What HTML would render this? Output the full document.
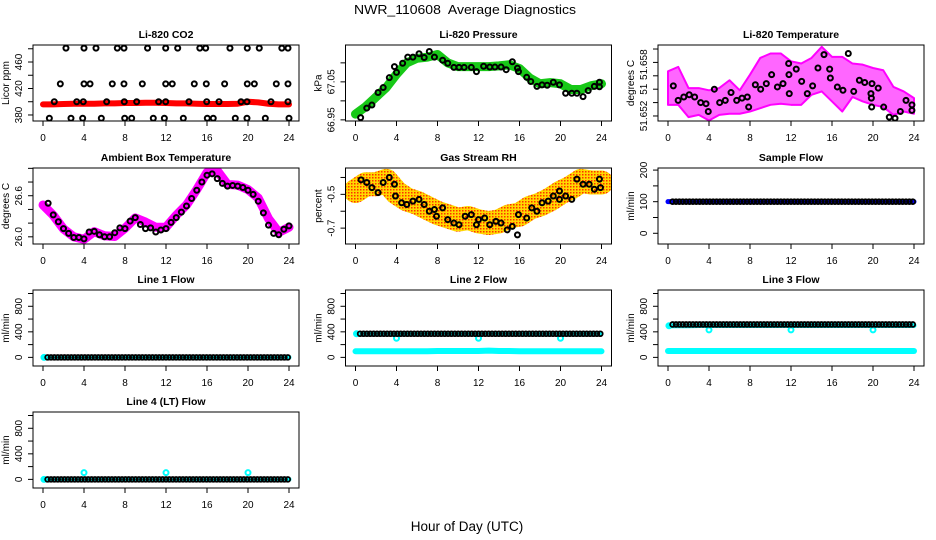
<!DOCTYPE html>
<html><head><meta charset="utf-8"><title>NWR_110608 Average Diagnostics</title>
<style>
html,body{margin:0;padding:0;background:#fff;}
svg{display:block;font-family:"Liberation Sans",Arial,sans-serif;}
</style></head>
<body>
<svg id="chart" width="936" height="540" viewBox="0 0 936 540" xmlns="http://www.w3.org/2000/svg">
<defs>
<pattern id="rhpat" width="3" height="3" patternUnits="userSpaceOnUse">
<rect width="3" height="3" fill="#ffd800"/><rect width="1.5" height="1.5" fill="#ff3000"/>
</pattern>
</defs>
<text x="465" y="14" text-anchor="middle" font-size="13" textLength="222" lengthAdjust="spacingAndGlyphs" xml:space="preserve">NWR_110608  Average Diagnostics</text>
<text x="467" y="531" text-anchor="middle" font-size="13.5">Hour of Day (UTC)</text>
</svg>
<script>
// ---------- data ----------
const xTicks = [0,4,8,12,16,20,24];
const hourly = [0,1,2,3,4,5,6,7,8,9,10,11,12,13,14,15,16,17,18,19,20,21,22,23,24];

// CO2
const co2Red = [396,396,396.5,397,397,397,397.5,397.5,398,398,398.5,398.5,398,397.5,397.5,397,396.5,396.5,396.5,397,400,399,397,396,396];
const co2Hours = [2.24,4.0,5.17,7.25,7.9,10.2,11.97,13.14,15.3,15.87,18.24,19.93,21.1,23.3,23.9,
 1.69,4.0,4.59,6.76,7.9,9.69,11.97,12.61,14.76,15.93,17.72,19.93,20.62,22.76,23.9,
 1.1,3.29,3.93,6.21,7.93,9.14,11.28,11.97,14.24,15.97,17.17,19.32,19.9,22.24,23.9,
 0.62,2.73,3.87,5.69,7.97,8.65,10.76,11.84,13.69,16.03,16.61,18.76,19.9,21.69,24.0];
const co2Vals = [481,481,481,481,481,481,481,481,481,481,481,481,481,481,481,
 427,427,427,427,427,427,427,427,427,427,427,427,427,427,427,
 400,400,400,400,400,400,400,400,400,400,400,400,400,400,400,
 375,375,375,375,375,375,375,375,375,375,375,375,375,375,375];

// Pressure
const presGreen = [66.965,66.985,67.01,67.035,67.07,67.1,67.112,67.115,67.122,67.10,67.09,67.09,67.09,67.09,67.092,67.095,67.085,67.06,67.045,67.048,67.045,67.03,67.03,67.04,67.045];
const presHours = [0.5,1.1,1.6,2.2,2.7,3.3,3.8,4.0,4.6,5.1,5.6,6.2,6.7,7.2,7.7,8.5,9.0,9.6,10.1,10.6,11.3,11.8,12.5,13.1,13.6,14.2,14.7,15.3,15.8,15.9,16.7,17.1,17.7,18.2,18.7,19.3,19.9,20.5,21.1,21.6,22.2,22.7,23.3,23.8,23.8];
const presVals = [66.956,66.981,66.989,67.022,67.035,67.061,67.09,67.075,67.099,67.115,67.115,67.124,67.114,67.13,67.115,67.107,67.099,67.088,67.088,67.088,67.088,67.077,67.091,67.089,67.089,67.089,67.082,67.103,67.086,67.077,67.062,67.051,67.038,67.042,67.041,67.049,67.042,67.02,67.02,67.02,67.011,67.027,67.038,67.049,67.037];

// Li-820 temperature
const tempHi = [51.6560,51.6564,51.6545,51.6545,51.6543,51.6545,51.6552,51.6543,51.6557,51.6572,51.6576,51.6576,51.6569,51.6567,51.6572,51.6582,51.6573,51.6573,51.6567,51.6566,51.6563,51.6561,51.6546,51.6542,51.6536];
const tempLo = [51.6530,51.6530,51.6519,51.6521,51.6516,51.6521,51.6522,51.6522,51.6524,51.6527,51.6530,51.6531,51.6530,51.6530,51.6539,51.6542,51.6533,51.6524,51.6537,51.6533,51.6530,51.6528,51.6521,51.6524,51.6522];
const tempHours = [0.52,0.99,1.54,2.07,2.6,3.19,3.71,3.93,4.52,5.04,5.59,6.15,6.7,7.22,7.74,7.87,8.52,9.04,9.59,10.11,10.67,11.22,11.77,11.8,11.83,12.51,13.04,13.59,14.11,14.63,15.22,15.77,15.84,16.52,17.07,17.59,18.12,18.67,19.19,19.8,19.84,19.87,19.9,20.51,21.04,21.59,22.15,22.67,23.22,23.8,23.8];
const tempVals = [51.6547,51.6534,51.6537,51.6539,51.6537,51.6532,51.6531,51.6524,51.6544,51.6532,51.6534,51.6541,51.6534,51.6536,51.6537,51.6528,51.6548,51.6544,51.6549,51.6557,51.6546,51.6549,51.6567,51.6557,51.6540,51.6562,51.6551,51.6540,51.6547,51.6563,51.6575,51.6562,51.6554,51.6546,51.6543,51.6576,51.6542,51.6552,51.6550,51.6540,51.6536,51.6528,51.6549,51.6545,51.6528,51.6519,51.6518,51.6524,51.6534,51.6530,51.6525];

// Ambient box temperature
const ambMag = [26.465,26.315,26.115,26.0,25.965,26.075,26.015,26.005,26.125,26.275,26.215,26.14,26.14,26.315,26.465,26.69,26.94,26.965,26.765,26.755,26.69,26.565,26.265,26.065,26.14];
const ambHours = [0.5,1,1.5,2,2.5,3,3.5,4,4.5,5,5.5,6,6.5,7,7.5,8,8.5,9,9.5,10,10.5,11,11.5,12,12.5,13,13.5,14,14.5,15,15.5,16,16.5,17,17.5,18,18.5,19,19.5,20,20.5,21,21.5,22,22.5,23,23.5,24];
const ambVals = [26.49,26.32,26.22,26.12,26.05,25.99,25.99,25.97,26.07,26.08,26.03,26.0,26.0,26.06,26.13,26.12,26.23,26.28,26.18,26.12,26.13,26.07,26.1,26.12,26.21,26.28,26.36,26.45,26.56,26.68,26.8,26.9,26.92,26.85,26.78,26.74,26.75,26.74,26.72,26.68,26.62,26.52,26.35,26.17,26.05,26.03,26.11,26.16];

// Gas stream RH
const rhBand = [-0.48,-0.44,-0.44,-0.42,-0.49,-0.53,-0.55,-0.58,-0.61,-0.63,-0.65,-0.64,-0.66,-0.67,-0.66,-0.63,-0.62,-0.58,-0.56,-0.53,-0.49,-0.46,-0.42,-0.43,-0.43];
const rhHours = [0.54,1.1,1.6,2.2,2.7,3.3,3.8,3.9,4.5,5.0,5.6,6.2,6.7,7.2,7.7,7.9,8.5,9.0,9.6,10.1,10.7,11.3,11.8,12.0,12.6,13.1,13.7,14.2,14.8,15.3,15.8,15.9,16.7,17.2,17.7,18.2,18.8,19.3,19.9,19.9,20.5,21.1,21.6,22.2,22.8,23.3,23.8,23.9];
const rhVals = [-0.414,-0.43,-0.46,-0.49,-0.43,-0.40,-0.44,-0.51,-0.55,-0.56,-0.54,-0.53,-0.56,-0.60,-0.59,-0.63,-0.58,-0.65,-0.67,-0.68,-0.63,-0.62,-0.68,-0.65,-0.64,-0.68,-0.66,-0.67,-0.71,-0.69,-0.74,-0.62,-0.64,-0.58,-0.60,-0.55,-0.54,-0.51,-0.48,-0.53,-0.51,-0.53,-0.41,-0.44,-0.44,-0.47,-0.41,-0.46];

// Flows (dense black points)
const flowHours = [];
for (let i = 0; i < 72; i++) flowHours.push(0.45 + i * 0.33);
const sampleBlack = [100,100,100,100,100,100,100,100,100,100,100,100, 100,100,100,100,100,100,100,100,100,100,100,100, 100,100,100,100,100,100,100,100,100,100,100,100, 100,100,100,100,100,100,100,100,100,100,100,100, 100,100,100,100,100,100,100,100,100,100,100,100, 100,100,100,100,100,100,100,100,100,100,100,100];
const sampleBlue = [100,100,100,100,100,100,100,100,100,100,100,100,100,100,100,100,100,100,100,100,100,100,100,100,100];
const line1Black = [0,0,0,0,0,0,0,0,0,0,0,0, 0,0,0,0,0,0,0,0,0,0,0,0, 0,0,0,0,0,0,0,0,0,0,0,0, 0,0,0,0,0,0,0,0,0,0,0,0, 0,0,0,0,0,0,0,0,0,0,0,0, 0,0,0,0,0,0,0,0,0,0,0,0];
const line1Cyan = [0,0,0,0,0,0,0,0,0,0,0,0,0,0,0,0,0,0,0,0,0,0,0,0,0];
const line2Black = [370,370,370,370,370,370,370,370,370,370,370,370, 370,370,370,370,370,370,370,370,370,370,370,370, 370,370,370,370,370,370,370,370,370,370,370,370, 370,370,370,370,370,370,370,370,370,370,370,370, 370,370,370,370,370,370,370,370,370,370,370,370, 370,370,370,370,370,370,370,370,370,370,370,370];
const line2CyanHigh = [370,370,370,370,370,370,370,375,380,375,370,370,375,380,375,370,370,365,365,365,370,370,370,370,370];
const line2CyanLow = [95,95,95,95,95,95,95,95,100,100,100,100,100,105,100,100,95,95,95,95,95,95,95,95,95];
const line3Black = [515,515,515,515,515,515,515,515,515,515,515,515, 515,515,515,515,515,515,515,515,515,515,515,515, 515,515,515,515,515,515,515,515,515,515,515,515, 515,515,515,515,515,515,515,515,515,515,515,515, 515,515,515,515,515,515,515,515,515,515,515,515, 515,515,515,515,515,515,515,515,515,515,515,515];
const line3CyanHigh = [495,495,495,500,500,500,500,500,500,500,500,500,500,500,500,500,500,500,500,500,500,500,500,500,500];
const line3CyanLow = [100,100,100,100,100,100,100,100,100,100,100,100,100,100,100,100,100,100,100,100,100,100,100,100,100];
const line4Black = [0,0,0,0,0,0,0,0,0,0,0,0, 0,0,0,0,0,0,0,0,0,0,0,0, 0,0,0,0,0,0,0,0,0,0,0,0, 0,0,0,0,0,0,0,0,0,0,0,0, 0,0,0,0,0,0,0,0,0,0,0,0, 0,0,0,0,0,0,0,0,0,0,0,0];
const line4Cyan = [0,0,0,0,0,0,0,0,0,0,0,0,0,0,0,0,0,0,0,0,0,0,0,0,0];
const calHours = [4,12,20];
const line2Cal = [300,300,300];
const line3Cal = [430,430,430];
const line4Cal = [105,105,105];
const startHours = [0.1];
const line1Start = [0];
const line2Start = [370];
const line3Start = [495];
const line4Start = [0];

// ---------- drawing ----------
const NS = 'http://www.w3.org/2000/svg';
const svg = document.getElementById('chart');
const COLS = [33, 345.5, 658], ROWS = [45, 168, 290, 412], W = 266, H = 76;
let clipId = 0;

function mk(tag, attrs, parent) {
  const e = document.createElementNS(NS, tag);
  for (const k in attrs) e.setAttribute(k, attrs[k]);
  parent.appendChild(e);
  return e;
}

function panel(key, title, col, row, ylim, yticks, ylabs, ytitle) {
  const L = COLS[col], T = ROWS[row];
  const sx = h => L + 10 + h * (246 / 24);
  const sy = v => T + H - (v - ylim[0]) / (ylim[1] - ylim[0]) * H;
  const g = mk('g', {}, svg);
  
  
  const cp = mk('clipPath', { id: 'cp' + (++clipId) }, g);
  mk('rect', { x: L, y: T, width: W, height: H }, cp);
  const data = mk('g', { 'clip-path': 'url(#cp' + clipId + ')' }, g);
  
  
  const t = mk('text', { x: L + W / 2, y: T - 7, 'text-anchor': 'middle', 'font-size': 10.5, 'font-weight': 'bold' }, g);
  t.textContent = title;
  
  
  const yt = mk('text', { x: L - 24, y: T + H / 2, 'text-anchor': 'middle', 'font-size': 10, transform: 'rotate(-90 ' + (L - 24) + ' ' + (T + H / 2) + ')' }, g);
  yt.textContent = ytitle;
  
  
  function finish() {
    const box = mk('rect', { x: L, y: T, width: W, height: H, fill: 'none', stroke: '#000', 'stroke-width': 1 }, g);
    
    
    const xa = mk('g', {}, g);
    
    
    mk('line', { x1: sx(xTicks[0]), x2: sx(xTicks[xTicks.length - 1]), y1: T + H, y2: T + H, stroke: '#000' }, xa);
    xTicks.forEach(v => {
      mk('line', { x1: sx(v), x2: sx(v), y1: T + H, y2: T + H + 5, stroke: '#000' }, xa);
      const tx = mk('text', { x: sx(v), y: T + H + 20, 'text-anchor': 'middle', 'font-size': 10 }, xa);
      tx.textContent = v;
      
      
    });
    const ya = mk('g', {}, g);
    
    
    const vis = yticks.filter(v => v >= ylim[0] - 1e-9 && v <= ylim[1] + 1e-9);
    mk('line', { x1: L, x2: L, y1: sy(vis[0]), y2: sy(vis[vis.length - 1]), stroke: '#000' }, ya);
    vis.forEach(v => mk('line', { x1: L - 5, x2: L, y1: sy(v), y2: sy(v), stroke: '#000' }, ya));
    ylabs.forEach(p => {
      const x = L - 11, y = sy(p[0]);
      const tx = mk('text', { x: x, y: y, 'text-anchor': 'middle', 'font-size': 10, transform: 'rotate(-90 ' + x + ' ' + y + ')' }, ya);
      tx.textContent = p[1];
      
      
    });
  }
  return { sx, sy, g: data, finish };
}

function band(p, hours, vals, color, w, name) {
  const e = mk('polyline', { points: hours.map((h, i) => p.sx(h) + ',' + p.sy(vals[i])).join(' '), fill: 'none', stroke: color, 'stroke-width': w, 'stroke-linejoin': 'round', 'stroke-linecap': 'round' }, p.g);
  
  
}
function pts(p, hours, vals, color, r, sw, name) {
  const grp = mk('g', {}, p.g);
  
  
  hours.forEach((h, i) => {
    const c = mk('circle', { cx: p.sx(h), cy: p.sy(vals[i]), r: r, fill: 'none', stroke: color, 'stroke-width': sw }, grp);
    
    
  });
}

// Panel 1: CO2
let p = panel('co2', 'Li-820 CO2', 0, 0, [370.9, 485.7], [380,400,420,440,460,480], [[380,'380'],[420,'420'],[460,'460']], 'Licor ppm');
band(p, hourly, co2Red, '#ff0000', 6, 'co2-raw-band');
pts(p, co2Hours, co2Vals, '#000', 2.5, 2, 'co2-average-points');
p.finish();

// Panel 2: Pressure
p = panel('pressure', 'Li-820 Pressure', 1, 0, [66.947, 67.147], [66.95,67.0,67.05,67.1], [[66.95,'66.95'],[67.05,'67.05']], 'kPa');
band(p, hourly, presGreen, '#17c817', 9, 'pressure-raw-band');
pts(p, presHours, presVals, '#000', 2.5, 2, 'pressure-average-points');
p.finish();

// Panel 3: Li-820 temperature
p = panel('li820-temp', 'Li-820 Temperature', 2, 0, [51.65155, 51.65836], [51.652,51.6532,51.6544,51.6556,51.6568,51.658], [[51.652,'51.652'],[51.6544,'51'],[51.6566,'51.658']], 'degrees C');
(function () {
  const ptsStr = hourly.map((h, i) => p.sx(h) + ',' + p.sy(tempHi[i])).concat(hourly.slice().reverse().map((h, j) => p.sx(h) + ',' + p.sy(tempLo[hourly.length - 1 - j]))).join(' ');
  const e = mk('polygon', { points: ptsStr, fill: '#ff00ff', 'fill-opacity': 0.6, stroke: '#ff00ff', 'stroke-width': 2, 'stroke-linejoin': 'round' }, p.g);
  
  
})();
pts(p, tempHours, tempVals, '#000', 2.5, 2, 'li820-temp-average-points');
p.finish();

// Panel 4: Ambient
p = panel('ambient', 'Ambient Box Temperature', 0, 1, [25.895, 27.005], [26.0,26.2,26.4,26.6,26.8,27.0], [[26.0,'26.0'],[26.6,'26.6']], 'degrees C');
band(p, hourly, ambMag, '#ff00ff', 9, 'ambient-raw-band');
pts(p, ambHours, ambVals, '#000', 2.5, 2, 'ambient-average-points');
p.finish();

// Panel 5: RH
p = panel('rh', 'Gas Stream RH', 1, 1, [-0.794, -0.344], [-0.8,-0.7,-0.6,-0.5,-0.4], [[-0.7,'-0.7'],[-0.5,'-0.5']], 'percent');
band(p, hourly, rhBand, 'url(#rhpat)', 24, 'rh-raw-band');
pts(p, rhHours, rhVals, '#000', 2.5, 2, 'rh-average-points');
p.finish();

// Panel 6: Sample flow
p = panel('sample-flow', 'Sample Flow', 2, 1, [-33.9, 206.6], [0,50,100,150,200], [[0,'0'],[100,'100'],[200,'200']], 'ml/min');
band(p, hourly, sampleBlue, '#0000ff', 5, 'sample-flow-raw-band');
pts(p, flowHours, sampleBlack, '#000', 2.4, 1.8, 'sample-flow-average-points');
p.finish();

const flowLim = [-135, 1055], flowTicks = [0,200,400,600,800,1000], flowLabs = [[0,'0'],[400,'400'],[800,'800']];

// Line 1
p = panel('line1', 'Line 1 Flow', 0, 2, flowLim, flowTicks, flowLabs, 'ml/min');
band(p, hourly, line1Cyan, '#00ffff', 5, 'line1-raw-band');
pts(p, startHours, line1Start, '#00ffff', 2.5, 2, 'line1-start-point');
pts(p, flowHours, line1Black, '#000', 2.4, 1.8, 'line1-average-points');
p.finish();

// Line 2
p = panel('line2', 'Line 2 Flow', 1, 2, flowLim, flowTicks, flowLabs, 'ml/min');
band(p, hourly, line2CyanLow, '#00ffff', 6, 'line2-low-band');
band(p, hourly, line2CyanHigh, '#00ffff', 4, 'line2-high-band');
pts(p, calHours, line2Cal, '#00ffff', 2.5, 2, 'line2-cal-points');
pts(p, startHours, line2Start, '#00ffff', 2.5, 2, 'line2-start-point');
pts(p, flowHours, line2Black, '#000', 2.4, 1.8, 'line2-average-points');
p.finish();

// Line 3
p = panel('line3', 'Line 3 Flow', 2, 2, flowLim, flowTicks, flowLabs, 'ml/min');
band(p, hourly, line3CyanLow, '#00ffff', 6, 'line3-low-band');
band(p, hourly, line3CyanHigh, '#00ffff', 5, 'line3-high-band');
pts(p, calHours, line3Cal, '#00ffff', 2.5, 2, 'line3-cal-points');
pts(p, startHours, line3Start, '#00ffff', 2.5, 2, 'line3-start-point');
pts(p, flowHours, line3Black, '#000', 2.4, 1.8, 'line3-average-points');
p.finish();

// Line 4
p = panel('line4', 'Line 4 (LT) Flow', 0, 3, flowLim, flowTicks, flowLabs, 'ml/min');
band(p, hourly, line4Cyan, '#00ffff', 5, 'line4-raw-band');
pts(p, calHours, line4Cal, '#00ffff', 2.5, 2, 'line4-cal-points');
pts(p, startHours, line4Start, '#00ffff', 2.5, 2, 'line4-start-point');
pts(p, flowHours, line4Black, '#000', 2.4, 1.8, 'line4-average-points');
p.finish();
</script>
</body></html>
